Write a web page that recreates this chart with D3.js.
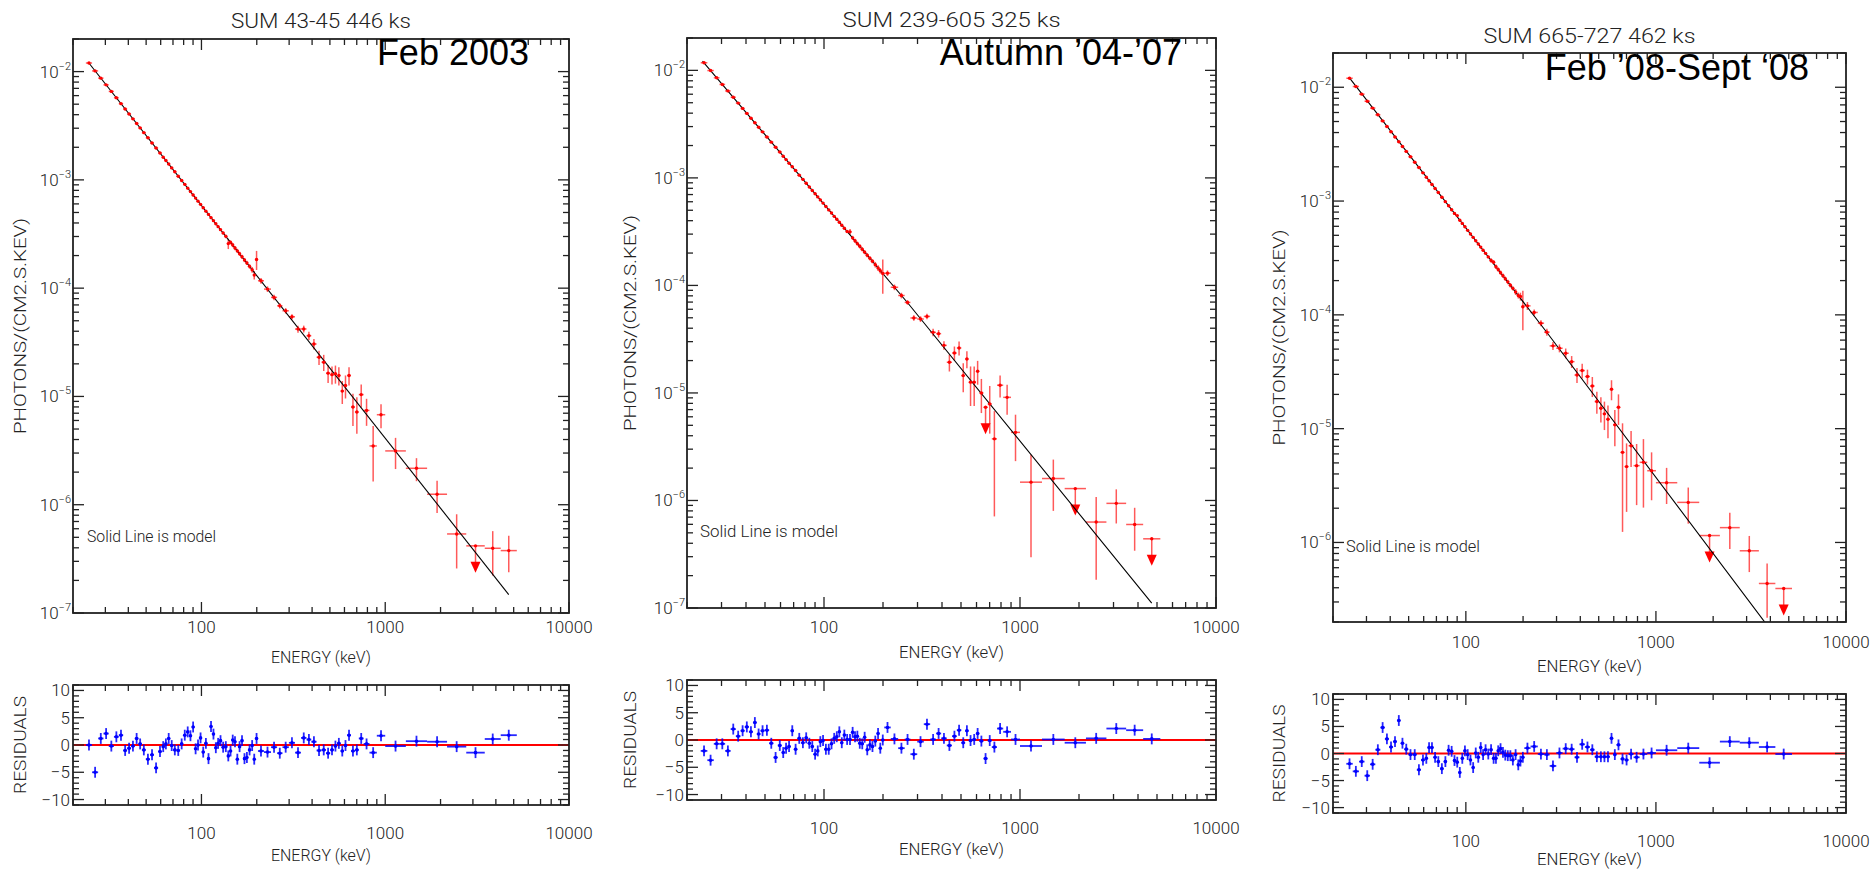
<!DOCTYPE html>
<html>
<head>
<meta charset="utf-8">
<script src="https://cdn.jsdelivr.net/npm/d3@7"></script>
<style>
  body { margin: 0; background: #fff; }
  svg text { font-family: Roboto, "DejaVu Sans", sans-serif; font-weight: 300; fill: #222; }
  svg text.tag { font-family: "Liberation Sans", Arial, sans-serif; font-weight: 400; fill: #000; }
</style>
</head>
<body>
<svg id="chart" width="1872" height="869"></svg>
<script>
// energy bin edges (keV), shared by the three spectra
const binEdges = [23.5, 25.4, 27.4, 29.3, 31.3, 33.4, 35.5, 37.5, 39.4, 41.4, 43.4, 45.4, 47.4, 49.8, 52.5,
  55.2, 58.1, 60.9, 63.0, 65.1, 67.6, 70.2, 73.1, 76.5, 79.6, 82.7, 85.7, 88.6, 91.6, 94.3, 97.3, 100.5,
  104, 107.5, 111, 114.5, 118, 121.5, 125, 129, 133.5, 138, 142, 146, 150, 154.5, 159, 163.5, 169, 174,
  179.5, 186, 191.5, 196, 203, 219, 239, 258, 276, 299, 323, 348, 373, 396, 423, 450, 476, 502, 525, 547,
  572, 596, 620, 651, 684, 718, 763, 821, 900, 1000, 1295, 1690, 2170, 2760, 3480, 4250, 5200];

const titles = ["SUM 43-45 446 ks", "SUM 239-605 325 ks", "SUM 665-727 462 ks"];
const periods = ["Feb 2003", "Autumn \u201904-\u201907", "Feb \u201908-Sept \u201808"];

// photons/(cm2 s keV)
const p1Flux = [1.20e-2, 1.015e-2, 8.70e-3, 7.54e-3, 6.56e-3, 5.73e-3, 5.06e-3, 4.52e-3, 4.06e-3, 3.66e-3,
  3.32e-3, 3.02e-3, 2.73e-3, 2.45e-3, 2.19e-3, 1.97e-3, 1.77e-3, 1.62e-3, 1.51e-3, 1.40e-3,
  1.29e-3, 1.19e-3, 1.08e-3, 9.88e-4, 9.09e-4, 8.39e-4, 7.79e-4, 7.26e-4, 6.79e-4, 6.36e-4,
  5.94e-4, 5.53e-4, 5.14e-4, 4.80e-4, 4.48e-4, 4.20e-4, 3.94e-4, 3.70e-4, 3.47e-4, 3.23e-4,
  3.01e-4, 2.58e-4, 2.65e-4, 2.50e-4, 2.35e-4, 2.21e-4, 2.08e-4, 1.95e-4, 1.82e-4, 1.71e-4,
  1.59e-4, 1.48e-4, 1.32e-4, 1.84e-4, 1.17e-4, 9.80e-5, 8.22e-5, 6.87e-5, 6.18e-5, 5.44e-5,
  4.19e-5, 4.20e-5, 3.64e-5, 3.05e-5, 2.30e-5, 2.07e-5, 1.64e-5, 1.59e-5, 1.62e-5, 1.56e-5,
  1.12e-5, 1.26e-5, 1.56e-5, 7.98e-6, 7.18e-6, 1.04e-5, 7.43e-6, 3.49e-6, 6.78e-6, 3.14e-6,
  2.17e-6, 1.25e-6, 5.37e-7, 4.17e-7, 3.96e-7, 3.77e-7];
const p2Flux = [1.177e-2, 9.96e-3, 8.53e-3, 7.40e-3, 6.44e-3, 5.62e-3, 4.96e-3, 4.43e-3, 3.98e-3, 3.59e-3,
  3.26e-3, 2.96e-3, 2.68e-3, 2.40e-3, 2.15e-3, 1.93e-3, 1.74e-3, 1.59e-3, 1.48e-3, 1.37e-3,
  1.27e-3, 1.17e-3, 1.06e-3, 9.69e-4, 8.92e-4, 8.23e-4, 7.64e-4, 7.12e-4, 6.66e-4, 6.24e-4,
  5.83e-4, 5.42e-4, 5.04e-4, 4.71e-4, 4.39e-4, 4.12e-4, 3.87e-4, 3.63e-4, 3.40e-4, 3.17e-4,
  3.15e-4, 2.77e-4, 2.60e-4, 2.45e-4, 2.31e-4, 2.17e-4, 2.04e-4, 1.91e-4, 1.79e-4, 1.68e-4,
  1.56e-4, 1.45e-4, 1.37e-4, 1.29e-4, 1.30e-4, 9.61e-5, 8.06e-5, 6.95e-5, 4.98e-5, 4.87e-5,
  5.15e-5, 3.66e-5, 3.56e-5, 2.77e-5, 1.93e-5, 2.35e-5, 2.62e-5, 1.45e-5, 2.07e-5, 1.26e-5,
  1.26e-5, 1.59e-5, 1.00e-5, 7.36e-6, 7.90e-6, 3.74e-6, 1.18e-5, 9.10e-6, 4.30e-6, 1.48e-6,
  1.60e-6, 1.29e-6, 6.30e-7, 9.40e-7, 5.98e-7, 4.40e-7];
const p3Flux = [1.20e-2, 1.015e-2, 8.70e-3, 7.54e-3, 6.56e-3, 5.73e-3, 5.06e-3, 4.52e-3, 4.06e-3, 3.66e-3,
  3.32e-3, 3.02e-3, 2.73e-3, 2.45e-3, 2.19e-3, 1.97e-3, 1.77e-3, 1.62e-3, 1.51e-3, 1.40e-3,
  1.29e-3, 1.19e-3, 1.08e-3, 9.88e-4, 9.09e-4, 8.39e-4, 7.79e-4, 7.45e-4, 6.79e-4, 6.36e-4,
  5.94e-4, 5.53e-4, 5.14e-4, 4.80e-4, 4.48e-4, 4.20e-4, 3.94e-4, 3.70e-4, 3.47e-4, 3.23e-4,
  3.01e-4, 2.90e-4, 2.65e-4, 2.50e-4, 2.35e-4, 2.21e-4, 2.08e-4, 1.95e-4, 1.82e-4, 1.71e-4,
  1.59e-4, 1.48e-4, 1.45e-4, 1.18e-4, 1.20e-4, 1.05e-4, 8.45e-5, 7.05e-5, 5.34e-5, 5.09e-5,
  4.60e-5, 3.88e-5, 2.96e-5, 3.24e-5, 2.87e-5, 2.37e-5, 1.73e-5, 1.51e-5, 1.35e-5, 1.21e-5,
  2.22e-5, 1.08e-5, 1.54e-5, 6.19e-6, 4.64e-6, 7.08e-6, 4.73e-6, 5.06e-6, 4.27e-6, 3.35e-6,
  2.25e-6, 1.15e-6, 1.35e-6, 8.45e-7, 4.36e-7, 3.94e-7];

// relative 1-sigma flux errors (0 = upper limit bin)
const p1Err = [0.015, 0.015, 0.015, 0.015, 0.015, 0.015, 0.015, 0.015, 0.015, 0.015,
  0.015, 0.015, 0.015, 0.015, 0.015, 0.015, 0.015, 0.015, 0.015, 0.015,
  0.025, 0.025, 0.025, 0.025, 0.025, 0.025, 0.025, 0.025, 0.025, 0.025,
  0.025, 0.025, 0.025, 0.025, 0.025, 0.025, 0.025, 0.025, 0.025, 0.025,
  0.04, 0.11, 0.045, 0.045, 0.045, 0.045, 0.045, 0.045, 0.045, 0.045,
  0.05, 0.06, 0.09, 0.2, 0.06, 0.06, 0.06, 0.058, 0.058, 0.058,
  0.073, 0.073, 0.088, 0.11, 0.15, 0.17, 0.19, 0.19, 0.19, 0.19,
  0.24, 0.24, 0.19, 0.33, 0.37, 0.24, 0.28, 0.53, 0.25, 0.32,
  0.24, 0.33, 0.52, 0, 0.44, 0.37];
const p2Err = [0.015, 0.015, 0.015, 0.015, 0.015, 0.015, 0.015, 0.015, 0.015, 0.015,
  0.015, 0.015, 0.015, 0.015, 0.015, 0.015, 0.015, 0.015, 0.015, 0.015,
  0.025, 0.025, 0.025, 0.025, 0.025, 0.025, 0.025, 0.025, 0.025, 0.025,
  0.025, 0.025, 0.025, 0.025, 0.025, 0.025, 0.025, 0.025, 0.025, 0.025,
  0.06, 0.045, 0.045, 0.045, 0.045, 0.045, 0.045, 0.045, 0.045, 0.045,
  0.06, 0.06, 0.06, 0.35, 0.06, 0.06, 0.06, 0.05, 0.06, 0.06,
  0.06, 0.08, 0.08, 0.09, 0.18, 0.15, 0.15, 0.3, 0.18, 0.4,
  0.4, 0.25, 0.35, 0, 0.47, 0.81, 0.23, 0.31, 0.46, 0.8,
  0.5, 0, 0.71, 0.35, 0.43, 0];
const p3Err = [0.015, 0.015, 0.015, 0.015, 0.015, 0.015, 0.015, 0.015, 0.015, 0.015,
  0.015, 0.015, 0.015, 0.015, 0.015, 0.015, 0.015, 0.015, 0.015, 0.015,
  0.025, 0.025, 0.025, 0.025, 0.025, 0.025, 0.025, 0.025, 0.025, 0.025,
  0.025, 0.025, 0.025, 0.025, 0.025, 0.025, 0.025, 0.025, 0.025, 0.025,
  0.045, 0.045, 0.045, 0.045, 0.045, 0.045, 0.045, 0.045, 0.045, 0.045,
  0.06, 0.06, 0.08, 0.38, 0.08, 0.06, 0.06, 0.07, 0.08, 0.08,
  0.1, 0.12, 0.15, 0.15, 0.15, 0.2, 0.22, 0.25, 0.28, 0.32,
  0.2, 0.35, 0.3, 0.8, 0.6, 0.35, 0.55, 0.6, 0.45, 0.35,
  0.35, 0, 0.35, 0.35, 0.5, 0];

// residuals in sigma
const p1Resid = [0, -5.0, 1.2, 2.1, -0.2, 1.5, 1.8, -1.0, -0.6, -0.2,
  1.2, 0.2, -0.9, -2.6, -1.8, -4.2, -1.2, -0.3, 0.2, 1.2,
  -0.1, -0.9, -1.0, 0.2, 1.8, 2.4, 1.7, 3.3, -0.7, 0,
  1.3, -1.3, 0.3, -2.5, 3.4, 2.0, -0.5, 0.3, 0.8, -0.4,
  -0.3, -2.0, -1.1, 0.9, 0.6, -2.6, -0.3, 0.8, -2.5, -2.3,
  -0.9, -0.1, -2.6, 1.2, -1.1, -1.3, -0.4, -1.5, -0.4, 0.4,
  -1.4, 1.3, 1.0, 0.6, -1.0, -0.9, -1.5, -0.9, -0.2, 0.3,
  -1.1, -0.1, 1.8, -1.1, -0.9, 1.2, 0.2, -1.4, 1.7, -0.2,
  0.7, 0.6, -0.3, -1.4, 1.1, 1.8];
const p2Resid = [-2.0, -3.7, -0.7, -0.7, -2.0, 2.0, 0.7, 1.7, 2.4, 1.5,
  3.2, 1.1, 1.7, 1.8, -0.6, -3.2, -1.0, -2.3, -1.5, -1.2,
  1.7, -1.7, 0.3, -0.5, 0.4, -0.6, -1.2, -2.6, -2.0, -0.3,
  -0.1, -1.7, -1.7, -0.7, 0.3, 0.6, 1.5, -0.5, 0.9, 0.1,
  0.1, 1.4, 0.6, 0.7, -0.6, -0.7, 0.5, -1.8, -0.9, -1.2,
  -0.2, 1.2, -1.5, 0, 2.3, 0.2, -1.5, 0.1, -2.6, -0.3,
  2.9, 0.1, 1.2, 0.3, -1.0, 0.7, 1.8, -0.5, 1.7, -0.1,
  0.1, 1.2, -0.2, -3.4, -0.1, -1.3, 2.1, 1.5, 0.1, -1.1,
  0.1, -0.5, 0.3, 2.1, 1.8, 0.2];
const p3Resid = [-1.9, -3.3, -1.5, -4.1, -2.0, 0.7, 4.8, 2.7, 1.2, 2.2,
  6.1, 1.9, 0.8, -0.2, -0.2, -3.0, -1.2, -0.9, 1.1, 1.1,
  -0.7, -1.5, -2.8, -1.5, 0.6, 0.4, -1.3, -1.6, -3.5, -0.9,
  0.5, -0.2, -1.2, -2.6, 0.1, -0.7, 1.1, -0.2, 0.7, -0.1,
  0.7, -0.9, -0.9, 0.5, 0.9, 0.2, -0.3, -0.4, -0.4, -1.2,
  -0.2, -2.1, -1.4, -0.7, 1.0, 1.3, -0.1, -0.2, -2.3, 0.1,
  0.9, 0.8, -0.7, 1.7, 1.2, 0.7, -0.6, -0.6, -0.6, -0.6,
  2.8, -0.2, 1.6, -1.0, -1.2, -0.1, -0.7, -0.1, 0.1, 0.6,
  1.0, -1.7, 2.2, 2.0, 1.2, -0.1];

// model curves: [keV, flux]
const p1Model = [[24.4, 1.20e-2], [4700, 1.48e-7]];
const p2Model = [[24.0, 1.22e-2], [267, 6.9e-5], [4700, 1.11e-7]];
const p3Model = [[24.3, 1.22e-2], [267, 7.0e-5], [4700, 1.2e-7]];

const yDomains = [[1e-7, 2e-2], [1e-7, 2e-2], [2e-7, 2e-2]];
const xDomain = [20, 10000];
const residDomain = [-11, 11];
const xLabels = [100, 1000, 10000];

// page geometry (px)
const layout = [
  {x0: 73, x1: 569, y0: 39, y1: 613, ry0: 685, ry1: 805, titleY: 28, titleLen: 180, tagX: 529, tagY: 65,
   noteX: 87, noteY: 542, noteLen: 129, axX: 20, xLen: 100, tickDy: 20, resEnDy: 56},
  {x0: 687, x1: 1216, y0: 38, y1: 608, ry0: 680, ry1: 800, titleY: 27, titleLen: 218, tagX: 1182, tagY: 65,
   noteX: 700, noteY: 537, noteLen: 138, axX: 630, xLen: 105, tickDy: 25, resEnDy: 55},
  {x0: 1333, x1: 1846, y0: 53, y1: 622, ry0: 694, ry1: 813, titleY: 43, titleLen: 212, tagX: 1809, tagY: 80,
   noteX: 1346, noteY: 552, noteLen: 134, axX: 1279, xLen: 105, tickDy: 26, resEnDy: 52}
];

const panels = [
  {flux: p1Flux, err: p1Err, resid: p1Resid, model: p1Model},
  {flux: p2Flux, err: p2Err, resid: p2Resid, model: p2Model},
  {flux: p3Flux, err: p3Err, resid: p3Resid, model: p3Model}
];

const svg = d3.select("#chart");
const RED = "#ff0000", BLUE = "#0000ff";
const MAJOR = 11, MINOR = 6;

const isDecade = (v) => Math.abs(Math.log10(v) - Math.round(Math.log10(v))) < 1e-9;

const bins = binEdges.slice(0, -1).map((lo, i) => {
  const hi = binEdges[i + 1];
  return {lo, hi, e: Math.sqrt(lo * hi)};
});

function frameTicks(g, c, xs, ys, yTicks, yTop, yBot) {
  const t = g.append("g").attr("stroke", "#222").attr("stroke-width", 1.3);
  xs.ticks().forEach((v) => {
    const len = isDecade(v) ? MAJOR : MINOR;
    const px = xs(v);
    t.append("line").attr("x1", px).attr("x2", px).attr("y1", yBot).attr("y2", yBot - len);
    t.append("line").attr("x1", px).attr("x2", px).attr("y1", yTop).attr("y2", yTop + len);
  });
  yTicks.forEach((d) => {
    const len = d.major ? MAJOR : MINOR;
    const py = ys(d.v);
    t.append("line").attr("x1", c.x0).attr("x2", c.x0 + len).attr("y1", py).attr("y2", py);
    t.append("line").attr("x1", c.x1).attr("x2", c.x1 - len).attr("y1", py).attr("y2", py);
  });
  g.append("rect")
    .attr("x", c.x0).attr("y", yTop)
    .attr("width", c.x1 - c.x0).attr("height", yBot - yTop)
    .attr("fill", "none").attr("stroke", "#222").attr("stroke-width", 1.8);
}

function xTickLabels(g, xs, y) {
  xLabels.forEach((v) => {
    g.append("text").attr("x", xs(v)).attr("y", y)
      .attr("text-anchor", "middle").attr("font-size", 17).text(v);
  });
}

function rotatedLabel(g, cx, cy, text, len) {
  g.append("text")
    .attr("transform", `translate(${cx + 6},${cy}) rotate(-90)`)
    .attr("text-anchor", "middle").attr("font-size", 17)
    .attr("textLength", len).attr("lengthAdjust", "spacingAndGlyphs")
    .text(text);
}

function drawPanel(c, p, idx) {
  const g = svg.append("g");
  const x = d3.scaleLog().domain(xDomain).range([c.x0, c.x1]);
  const y = d3.scaleLog().domain(yDomains[idx]).range([c.y1, c.y0]);
  const r = d3.scaleLinear().domain(residDomain).range([c.ry1, c.ry0]);

  const clipId = "clip" + idx;
  svg.append("clipPath").attr("id", clipId).append("rect")
    .attr("x", c.x0).attr("y", c.y0).attr("width", c.x1 - c.x0).attr("height", c.y1 - c.y0);

  // ---- spectrum
  const plot = g.append("g").attr("clip-path", `url(#${clipId})`);

  const pts = bins.map((b, i) => ({...b, f: p.flux[i], rel: p.err[i]}));
  const bars = plot.append("g").attr("stroke", RED).attr("stroke-width", 1.5).attr("stroke-opacity", 0.65);
  pts.forEach((d) => {
    const py = y(d.f);
    bars.append("line").attr("x1", x(d.lo)).attr("x2", x(d.hi)).attr("y1", py).attr("y2", py);
    if (d.rel > 0) {
      const lo = d.f * (1 - d.rel);
      const yLo = lo > 0 ? y(lo) : c.y1 + 5;
      bars.append("line").attr("x1", x(d.e)).attr("x2", x(d.e))
        .attr("y1", y(d.f * (1 + d.rel))).attr("y2", yLo);
    } else {
      // upper limit
      const px = x(d.e);
      bars.append("line").attr("x1", px).attr("x2", px).attr("y1", py).attr("y2", py + 18);
      plot.append("path")
        .attr("d", `M${px - 5},${py + 16}L${px + 5},${py + 16}L${px},${py + 27}Z`)
        .attr("fill", RED);
    }
  });

  // model drawn over the error bars, as in the original
  plot.append("path")
    .datum(p.model)
    .attr("d", d3.line().x((d) => x(d[0])).y((d) => y(d[1])))
    .attr("fill", "none").attr("stroke", "#000").attr("stroke-width", 1.1);

  plot.append("g").selectAll("circle").data(pts).join("circle")
    .attr("cx", (d) => x(d.e)).attr("cy", (d) => y(d.f)).attr("r", 1.7)
    .attr("fill", RED);

  const yTicks = y.ticks().map((v) => ({v, major: isDecade(v)}));
  frameTicks(g, c, x, y, yTicks, c.y0, c.y1);

  yTicks.filter((d) => d.major).forEach((d) => {
    const t = g.append("text").attr("x", c.x0 - 2).attr("y", y(d.v) + 6)
      .attr("text-anchor", "end").attr("font-size", 17);
    t.append("tspan").text("10");
    t.append("tspan").attr("dy", -8).attr("font-size", 11)
      .text("\u2212" + Math.abs(Math.round(Math.log10(d.v))));
  });
  xTickLabels(g, x, c.y1 + c.tickDy);
  g.append("text").attr("x", (c.x0 + c.x1) / 2).attr("y", c.y1 + 50)
    .attr("text-anchor", "middle").attr("font-size", 17)
    .attr("textLength", c.xLen).attr("lengthAdjust", "spacingAndGlyphs")
    .text("ENERGY (keV)");
  rotatedLabel(g, c.axX, (c.y0 + c.y1) / 2, "PHOTONS/(CM2.S.KEV)", 216);

  g.append("text").attr("x", (c.x0 + c.x1) / 2).attr("y", c.titleY)
    .attr("text-anchor", "middle").attr("font-size", 21).attr("fill", "#333")
    .attr("textLength", c.titleLen).attr("lengthAdjust", "spacingAndGlyphs")
    .text(titles[idx]);
  g.append("text").attr("x", c.noteX).attr("y", c.noteY).attr("font-size", 16)
    .attr("textLength", c.noteLen).attr("lengthAdjust", "spacingAndGlyphs")
    .text("Solid Line is model");
  g.append("text").attr("class", "tag").attr("x", c.tagX).attr("y", c.tagY)
    .attr("text-anchor", "end").attr("font-size", 36)
    .text(periods[idx]);

  // ---- residuals
  const rg = g.append("g");
  rg.append("line").attr("x1", c.x0).attr("x2", c.x1).attr("y1", r(0)).attr("y2", r(0))
    .attr("stroke", RED).attr("stroke-width", 2.2);

  const res = bins.map((b, i) => ({...b, v: p.resid[i]}));
  const rb = rg.append("g").attr("stroke", BLUE).attr("stroke-width", 1.8).attr("stroke-opacity", 0.85);
  res.forEach((d) => {
    const py = r(d.v), px = x(d.e);
    rb.append("line").attr("x1", x(d.lo)).attr("x2", x(d.hi)).attr("y1", py).attr("y2", py);
    rb.append("line").attr("x1", px).attr("x2", px).attr("y1", r(d.v + 1)).attr("y2", r(d.v - 1));
  });
  rg.append("g").selectAll("circle").data(res).join("circle")
    .attr("cx", (d) => x(d.e)).attr("cy", (d) => r(d.v)).attr("r", 1.8).attr("fill", BLUE);

  const rTicks = d3.range(residDomain[0], residDomain[1] + 1).map((v) => ({v, major: v % 5 === 0}));
  frameTicks(rg, c, x, r, rTicks, c.ry0, c.ry1);
  rTicks.filter((d) => d.major).forEach((d) => {
    rg.append("text").attr("x", c.x0 - 3).attr("y", r(d.v) + 6)
      .attr("text-anchor", "end").attr("font-size", 17)
      .text(d.v < 0 ? "\u2212" + Math.abs(d.v) : d.v);
  });
  xTickLabels(rg, x, c.ry1 + 34);
  rg.append("text").attr("x", (c.x0 + c.x1) / 2).attr("y", c.ry1 + c.resEnDy)
    .attr("text-anchor", "middle").attr("font-size", 17)
    .attr("textLength", c.xLen).attr("lengthAdjust", "spacingAndGlyphs")
    .text("ENERGY (keV)");
  rotatedLabel(rg, c.axX, (c.ry0 + c.ry1) / 2, "RESIDUALS", 98);
}

panels.forEach((p, i) => drawPanel(layout[i], p, i));
</script>
</body>
</html>
